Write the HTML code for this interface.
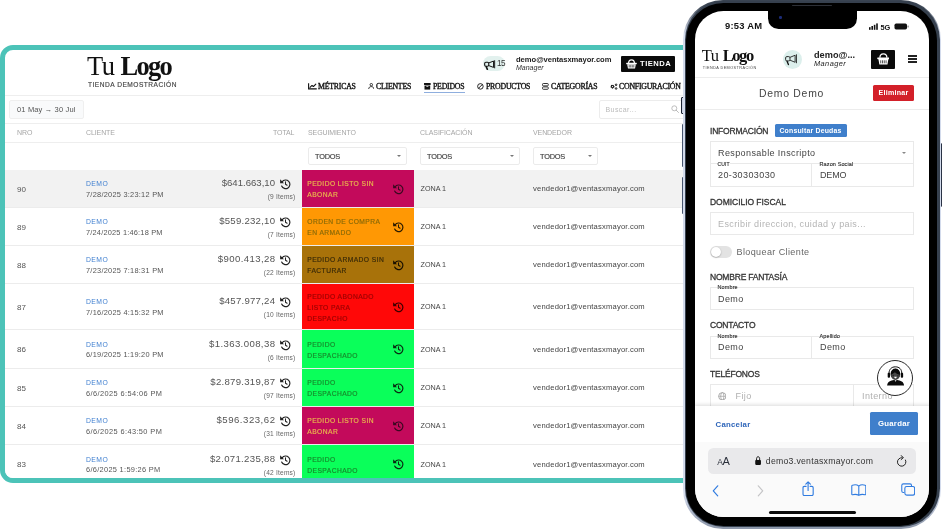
<!DOCTYPE html>
<html>
<head>
<meta charset="utf-8">
<title>Ventas x Mayor</title>
<style>
*{box-sizing:border-box;margin:0;padding:0}
html,body{width:942px;height:529px;overflow:hidden;background:#fff}
body{font-family:"Liberation Sans",sans-serif;position:relative;color:#444}
.abs{position:absolute;white-space:nowrap}
/* ---------- desktop ---------- */
#frame{position:absolute;left:0;top:45px;width:700px;height:438px;border:5px solid #4cc3b8;border-radius:13px 0 0 13px;background:#fff}
#deskclip{position:absolute;left:5px;top:50px;width:685px;height:428px;overflow:hidden;border-radius:8px 0 0 8px}
#desk{position:absolute;left:-5px;top:-50px;width:700px;height:529px;will-change:transform}
#frameclip{position:absolute;left:0;top:0;width:690px;height:529px;overflow:hidden}
.serif{font-family:"Liberation Serif",serif}
.hline{position:absolute;height:1px;background:#eeeeee;left:5px;width:690px}
.nav{position:absolute;top:82.3px;font-family:"Liberation Serif",serif;font-size:7.8px;color:#111;line-height:10px;white-space:nowrap;letter-spacing:-0.22px;-webkit-text-stroke:0.34px #111}
.th{position:absolute;top:128px;font-size:7px;letter-spacing:-0.1px;color:#a6a6a6;line-height:9px;white-space:nowrap}
.sel{position:absolute;top:146.5px;height:18.5px;border:1px solid #ebebeb;border-radius:2px;background:#fff;font-size:7.4px;letter-spacing:-0.22px;color:#444;line-height:17.5px;padding-left:6px;-webkit-text-stroke:0.15px #444}
.sel i{position:absolute;right:5.5px;top:7.5px;width:0;height:0;border-left:2.2px solid transparent;border-right:2.2px solid transparent;border-top:2.6px solid #777}
.row{position:absolute;left:5px;width:690px;border-bottom:1px solid #ececec;background:#fff}
.row.g{background:#f2f2f2}
.nro{position:absolute;left:12px;font-size:8px;color:#555;line-height:9px}
.cli{position:absolute;left:81px;top:9px;font-size:6.8px;letter-spacing:0.45px;color:#3f7fd0;line-height:9px}
.dt{position:absolute;left:81px;top:20px;font-size:7.4px;color:#555;line-height:9px;letter-spacing:0.25px;white-space:nowrap}
.tot{position:absolute;right:420px;top:7px;font-size:9.6px;color:#555;line-height:12px;white-space:nowrap;text-align:right}
.itm{position:absolute;right:399.5px;top:22px;font-size:6.6px;color:#666;line-height:8px;white-space:nowrap;text-align:right;letter-spacing:0.2px}
.hi{position:absolute;left:274px;top:7px;width:12px;height:12px}
.seg{position:absolute;left:296.7px;top:0;width:112.6px;bottom:0;font-size:6.7px;letter-spacing:0.44px;line-height:10.9px;padding-left:5.6px;-webkit-text-stroke:0.18px}
.seg .hi2{position:absolute;left:90px;width:12px;height:12px}
.zona{position:absolute;left:415.5px;margin-top:-0.6px;font-size:7.2px;color:#444;line-height:9px;letter-spacing:0px}
.ven{position:absolute;left:528px;margin-top:-0.6px;font-size:7.6px;color:#444;line-height:9px;letter-spacing:0.19px}
/* ---------- phone ---------- */
#scrclip{position:absolute;left:694.6px;top:10.8px;width:234.6px;height:506.6px;overflow:hidden;border-radius:28.5px;background:#fff}
#scr{will-change:transform;position:absolute;left:-694.6px;top:-10.8px;width:942px;height:529px}
.lbl{position:absolute;left:710px;font-size:8.5px;letter-spacing:-0.2px;color:#333;-webkit-text-stroke:0.28px #333;line-height:10px;white-space:nowrap}
.box{position:absolute;border:1px solid #e9e9e9;background:#fff}
.val{position:absolute;font-size:9px;letter-spacing:0.4px;color:#444;line-height:10px;white-space:nowrap}
.tiny{position:absolute;-webkit-text-stroke:0.15px #333;font-size:5.5px;color:#333;line-height:6px;white-space:nowrap;background:#fff;letter-spacing:0.12px}
</style>
</head>
<body>
<div id="frameclip"><div id="frame"></div></div>
<div id="deskclip"><div id="desk">

<!-- logo -->
<div class="abs serif" style="left:87px;top:50.6px;font-size:26.5px;line-height:30px;color:#111;letter-spacing:-0.5px">Tu<b style="letter-spacing:-1.75px;margin-left:6px">Logo</b></div>
<div class="abs" style="left:88px;top:81.2px;font-size:6.6px;line-height:8px;letter-spacing:0.5px;color:#444;-webkit-text-stroke:0.15px #444">TIENDA DEMOSTRACIÓN</div>

<!-- top right -->
<div class="abs" style="left:483px;top:56px;width:22.4px;height:15px;border-radius:8px;background:#e2f1ee"></div>
<div class="abs" style="left:496.9px;top:59.2px;font-size:8.2px;line-height:9px;color:#333;letter-spacing:-0.5px">15</div>
<div class="abs" style="left:516px;top:55px;font-size:7.6px;line-height:10px;font-weight:bold;color:#222;letter-spacing:-0.03px">demo@ventasxmayor.com</div>
<div class="abs" style="left:516px;top:62.5px;font-size:7px;line-height:9px;font-style:italic;color:#333">Manager</div>
<div class="abs" style="left:621px;top:56px;width:54px;height:16px;background:#0a0a0a;border-radius:1px"></div>
<div class="abs" style="left:640px;top:59px;font-size:7.6px;line-height:10px;font-weight:bold;color:#fff;letter-spacing:0.5px">TIENDA</div>

<!-- nav -->
<div class="nav" style="left:318px">MÉTRICAS</div>
<div class="nav" style="left:376px">CLIENTES</div>
<div class="nav" style="left:433px">PEDIDOS</div>
<div class="abs" style="left:424px;top:92px;width:41px;height:1px;background:#8eaede"></div>
<div class="nav" style="left:486px">PRODUCTOS</div>
<div class="nav" style="left:551px">CATEGORÍAS</div>
<div class="nav" style="left:619px">CONFIGURACIÓN</div>

<div class="hline" style="top:95px"></div>

<!-- toolbar -->
<div class="abs" style="left:9px;top:100px;width:75px;height:19px;border:1px solid #efefef;border-radius:2px;background:#f9fafb;font-size:7.5px;line-height:17px;color:#555;padding-left:7px;letter-spacing:0.15px">01 May → 30 Jul</div>
<div class="abs" style="left:599px;top:100px;width:90px;height:19px;border:1px solid #ececec;border-radius:2px;background:#fff;font-size:7px;line-height:17px;color:#bbb;padding-left:5.5px;letter-spacing:0.42px">Buscar...</div>
<div class="hline" style="top:123px"></div>

<!-- table head -->
<div class="th" style="left:17px">NRO</div>
<div class="th" style="left:86px">CLIENTE</div>
<div class="th" style="left:273px">TOTAL</div>
<div class="th" style="left:308px">SEGUIMIENTO</div>
<div class="th" style="left:420px">CLASIFICACIÓN</div>
<div class="th" style="left:533px">VENDEDOR</div>
<div class="hline" style="top:142px"></div>

<!-- filters -->
<div class="sel" style="left:308px;width:99px">TODOS<i></i></div>
<div class="sel" style="left:420px;width:100px">TODOS<i></i></div>
<div class="sel" style="left:533px;width:65px">TODOS<i></i></div>

<!-- desktop icons -->
<svg class="abs" style="left:308px;top:83.3px;width:9px;height:6.6px" viewBox="0 0 18 13"><path d="M1.2 0.5V11.6H17.5" fill="none" stroke="#111" stroke-width="2.2"/><path d="M4 8.6L8 4.8L10.8 7L15.6 2" fill="none" stroke="#111" stroke-width="2.2" stroke-linejoin="round" stroke-linecap="round"/></svg>
<svg class="abs" style="left:367.8px;top:83.2px;width:6.6px;height:6.2px" viewBox="0 0 12 12"><circle cx="6" cy="3.3" r="2.4" fill="none" stroke="#111" stroke-width="1.6"/><path d="M1 11.6C1 8.3 3.4 7 6 7S11 8.3 11 11.6" fill="none" stroke="#111" stroke-width="1.6"/></svg>
<svg class="abs" style="left:424px;top:83.2px;width:6.7px;height:6.6px" viewBox="0 0 12 12"><rect x="0" y="0" width="12" height="3.6" fill="#111"/><path d="M0.8 4.6H11.2V12H0.8Z" fill="#111"/><rect x="4.2" y="5.8" width="3.6" height="1.3" fill="#fff"/></svg>
<svg class="abs" style="left:476.8px;top:83px;width:6.8px;height:6.8px" viewBox="0 0 12 12"><circle cx="6" cy="6" r="4.9" fill="none" stroke="#111" stroke-width="1.6"/><path d="M2.8 9.2L9.2 2.8" stroke="#111" stroke-width="1.6"/></svg>
<svg class="abs" style="left:541.8px;top:83px;width:6.8px;height:6.8px" viewBox="0 0 12 12"><rect x="0.9" y="0.9" width="10.2" height="4.2" rx="1.5" fill="none" stroke="#111" stroke-width="1.5"/><rect x="0.9" y="6.9" width="10.2" height="4.2" rx="1.5" fill="none" stroke="#111" stroke-width="1.5"/></svg>
<svg class="abs" style="left:610px;top:82.8px;width:8px;height:7.2px" viewBox="0 0 16 14"><circle cx="5" cy="7" r="2.6" fill="none" stroke="#111" stroke-width="2.6" stroke-dasharray="1.9 0.9"/><circle cx="5" cy="7" r="2.2" fill="none" stroke="#111" stroke-width="2"/><circle cx="12.2" cy="3.4" r="1.6" fill="none" stroke="#111" stroke-width="2"/><circle cx="12.2" cy="10.8" r="1.6" fill="none" stroke="#111" stroke-width="2"/></svg>
<!-- megaphone -->
<svg class="abs" style="left:484px;top:59.7px;width:11.5px;height:10px" viewBox="0 0 24 21"><rect x="1.3" y="4.6" width="8.6" height="8.6" rx="2.6" fill="none" stroke="#111" stroke-width="2.3"/><path d="M10 6.2L20 2.2V15.6L10 11.8" fill="none" stroke="#111" stroke-width="2.1" stroke-linejoin="round"/><path d="M22.3 0.6V17.4" stroke="#111" stroke-width="2"/><path d="M4.6 14L7 19.6" stroke="#111" stroke-width="3.2" stroke-linecap="round"/></svg>
<!-- basket -->
<svg class="abs" style="left:626px;top:59px;width:11px;height:10px" viewBox="0 0 22 20"><path d="M5.2 8C5.2 3.4 8 1.6 11 1.6S16.8 3.4 16.8 8" fill="none" stroke="#fff" stroke-width="2.4"/><rect x="0.4" y="7.4" width="21.2" height="3.2" rx="1" fill="#fff"/><path d="M2.4 10.4H19.6L18 19.2H4Z" fill="#fff"/><path d="M6.4 12.2V17M9.5 12.2V17M12.5 12.2V17M15.6 12.2V17" stroke="#0a0a0a" stroke-width="1.3"/></svg>
<!-- search -->
<svg class="abs" style="left:671px;top:105.4px;width:8px;height:8px" viewBox="0 0 16 16"><circle cx="6.6" cy="6.6" r="5" fill="none" stroke="#aaa" stroke-width="1.5"/><path d="M10.4 10.4L15 15" stroke="#aaa" stroke-width="1.6" stroke-linecap="round"/></svg>
<!--/desktop icons-->
<!-- ROWS -->
<div id="rows">
<div class="row g" style="top:170px;height:38px">
<div class="nro" style="top:14.6px">90</div>
<div class="cli" style="top:9.3px">DEMO</div><div class="dt" style="top:19.8px;letter-spacing:0.25px">7/28/2025 3:23:12 PM</div>
<div class="tot" style="top:7.1px;letter-spacing:0px;margin-right:-0px">$641.663,10</div><svg class="hi" style="top:8.1px" viewBox="0 0 24 24"><path d="M6.2 7.6A8.6 8.6 0 1 1 5.3 16" fill="none" stroke="#222" stroke-width="2.4" stroke-linecap="round"/><path d="M2.2 2.6V10.4H10Z" fill="#222"/><path d="M13 7.4V12.4L16.2 14.4" fill="none" stroke="#222" stroke-width="2.1" stroke-linecap="round" stroke-linejoin="round"/></svg>
<div class="itm" style="top:23.1px">(9 Items)</div>
<div class="seg" style="background:#c30a5b;color:#e9b84d;padding-top:9.1px">PEDIDO LISTO SIN<br>ABONAR<svg class="hi2" style="top:12.9px" viewBox="0 0 24 24"><path d="M6.2 7.6A8.6 8.6 0 1 1 5.3 16" fill="none" stroke="#3a0a20" stroke-width="2.4" stroke-linecap="round"/><path d="M2.2 2.6V10.4H10Z" fill="#3a0a20"/><path d="M13 7.4V12.4L16.2 14.4" fill="none" stroke="#3a0a20" stroke-width="2.1" stroke-linecap="round" stroke-linejoin="round"/></svg></div>
<div class="zona" style="top:14.6px">ZONA 1</div><div class="ven" style="top:14.6px">vendedor1@ventasxmayor.com</div>
</div>
<div class="row" style="top:208px;height:38px">
<div class="nro" style="top:14.6px">89</div>
<div class="cli" style="top:9.3px">DEMO</div><div class="dt" style="top:19.8px;letter-spacing:0.2px">7/24/2025 1:46:18 PM</div>
<div class="tot" style="top:7.1px;letter-spacing:0.25px;margin-right:-0.25px">$559.232,10</div><svg class="hi" style="top:8.1px" viewBox="0 0 24 24"><path d="M6.2 7.6A8.6 8.6 0 1 1 5.3 16" fill="none" stroke="#222" stroke-width="2.4" stroke-linecap="round"/><path d="M2.2 2.6V10.4H10Z" fill="#222"/><path d="M13 7.4V12.4L16.2 14.4" fill="none" stroke="#222" stroke-width="2.1" stroke-linecap="round" stroke-linejoin="round"/></svg>
<div class="itm" style="top:23.1px">(7 Items)</div>
<div class="seg" style="background:#ff9804;color:#8a6a08;padding-top:9.1px">ORDEN DE COMPRA<br>EN ARMADO<svg class="hi2" style="top:12.9px" viewBox="0 0 24 24"><path d="M6.2 7.6A8.6 8.6 0 1 1 5.3 16" fill="none" stroke="#2a1a00" stroke-width="2.4" stroke-linecap="round"/><path d="M2.2 2.6V10.4H10Z" fill="#2a1a00"/><path d="M13 7.4V12.4L16.2 14.4" fill="none" stroke="#2a1a00" stroke-width="2.1" stroke-linecap="round" stroke-linejoin="round"/></svg></div>
<div class="zona" style="top:14.6px">ZONA 1</div><div class="ven" style="top:14.6px">vendedor1@ventasxmayor.com</div>
</div>
<div class="row" style="top:246px;height:38px">
<div class="nro" style="top:14.6px">88</div>
<div class="cli" style="top:9.3px">DEMO</div><div class="dt" style="top:19.8px;letter-spacing:0.25px">7/23/2025 7:18:31 PM</div>
<div class="tot" style="top:7.1px;letter-spacing:0.38px;margin-right:-0.38px">$900.413,28</div><svg class="hi" style="top:8.1px" viewBox="0 0 24 24"><path d="M6.2 7.6A8.6 8.6 0 1 1 5.3 16" fill="none" stroke="#222" stroke-width="2.4" stroke-linecap="round"/><path d="M2.2 2.6V10.4H10Z" fill="#222"/><path d="M13 7.4V12.4L16.2 14.4" fill="none" stroke="#222" stroke-width="2.1" stroke-linecap="round" stroke-linejoin="round"/></svg>
<div class="itm" style="top:23.1px">(22 Items)</div>
<div class="seg" style="background:#a8720a;color:#3a2a08;padding-top:9.1px">PEDIDO ARMADO SIN<br>FACTURAR<svg class="hi2" style="top:12.9px" viewBox="0 0 24 24"><path d="M6.2 7.6A8.6 8.6 0 1 1 5.3 16" fill="none" stroke="#1a1000" stroke-width="2.4" stroke-linecap="round"/><path d="M2.2 2.6V10.4H10Z" fill="#1a1000"/><path d="M13 7.4V12.4L16.2 14.4" fill="none" stroke="#1a1000" stroke-width="2.1" stroke-linecap="round" stroke-linejoin="round"/></svg></div>
<div class="zona" style="top:14.6px">ZONA 1</div><div class="ven" style="top:14.6px">vendedor1@ventasxmayor.com</div>
</div>
<div class="row" style="top:284px;height:46px">
<div class="nro" style="top:18.6px">87</div>
<div class="cli" style="top:13.3px">DEMO</div><div class="dt" style="top:23.8px;letter-spacing:0.25px">7/16/2025 4:15:32 PM</div>
<div class="tot" style="top:11.1px;letter-spacing:0.25px;margin-right:-0.25px">$457.977,24</div><svg class="hi" style="top:12.1px" viewBox="0 0 24 24"><path d="M6.2 7.6A8.6 8.6 0 1 1 5.3 16" fill="none" stroke="#222" stroke-width="2.4" stroke-linecap="round"/><path d="M2.2 2.6V10.4H10Z" fill="#222"/><path d="M13 7.4V12.4L16.2 14.4" fill="none" stroke="#222" stroke-width="2.1" stroke-linecap="round" stroke-linejoin="round"/></svg>
<div class="itm" style="top:27.1px">(10 Items)</div>
<div class="seg" style="background:#ff0808;color:#9a0303;padding-top:7.7px">PEDIDO ABONADO<br>LISTO PARA<br>DESPACHO<svg class="hi2" style="top:16.9px" viewBox="0 0 24 24"><path d="M6.2 7.6A8.6 8.6 0 1 1 5.3 16" fill="none" stroke="#3a0000" stroke-width="2.4" stroke-linecap="round"/><path d="M2.2 2.6V10.4H10Z" fill="#3a0000"/><path d="M13 7.4V12.4L16.2 14.4" fill="none" stroke="#3a0000" stroke-width="2.1" stroke-linecap="round" stroke-linejoin="round"/></svg></div>
<div class="zona" style="top:18.6px">ZONA 1</div><div class="ven" style="top:18.6px">vendedor1@ventasxmayor.com</div>
</div>
<div class="row" style="top:330px;height:39px">
<div class="nro" style="top:15.1px">86</div>
<div class="cli" style="top:9.8px">DEMO</div><div class="dt" style="top:20.3px;letter-spacing:0.25px">6/19/2025 1:19:20 PM</div>
<div class="tot" style="top:7.6px;letter-spacing:0.39px;margin-right:-0.39px">$1.363.008,38</div><svg class="hi" style="top:8.6px" viewBox="0 0 24 24"><path d="M6.2 7.6A8.6 8.6 0 1 1 5.3 16" fill="none" stroke="#222" stroke-width="2.4" stroke-linecap="round"/><path d="M2.2 2.6V10.4H10Z" fill="#222"/><path d="M13 7.4V12.4L16.2 14.4" fill="none" stroke="#222" stroke-width="2.1" stroke-linecap="round" stroke-linejoin="round"/></svg>
<div class="itm" style="top:23.6px">(6 Items)</div>
<div class="seg" style="background:#0aff5a;color:#178a2c;padding-top:9.6px">PEDIDO<br>DESPACHADO<svg class="hi2" style="top:13.4px" viewBox="0 0 24 24"><path d="M6.2 7.6A8.6 8.6 0 1 1 5.3 16" fill="none" stroke="#0a2a12" stroke-width="2.4" stroke-linecap="round"/><path d="M2.2 2.6V10.4H10Z" fill="#0a2a12"/><path d="M13 7.4V12.4L16.2 14.4" fill="none" stroke="#0a2a12" stroke-width="2.1" stroke-linecap="round" stroke-linejoin="round"/></svg></div>
<div class="zona" style="top:15.1px">ZONA 1</div><div class="ven" style="top:15.1px">vendedor1@ventasxmayor.com</div>
</div>
<div class="row" style="top:369px;height:38px">
<div class="nro" style="top:14.6px">85</div>
<div class="cli" style="top:9.3px">DEMO</div><div class="dt" style="top:19.8px;letter-spacing:0.41px">6/6/2025 6:54:06 PM</div>
<div class="tot" style="top:7.1px;letter-spacing:0.28px;margin-right:-0.28px">$2.879.319,87</div><svg class="hi" style="top:8.1px" viewBox="0 0 24 24"><path d="M6.2 7.6A8.6 8.6 0 1 1 5.3 16" fill="none" stroke="#222" stroke-width="2.4" stroke-linecap="round"/><path d="M2.2 2.6V10.4H10Z" fill="#222"/><path d="M13 7.4V12.4L16.2 14.4" fill="none" stroke="#222" stroke-width="2.1" stroke-linecap="round" stroke-linejoin="round"/></svg>
<div class="itm" style="top:23.1px">(97 Items)</div>
<div class="seg" style="background:#0aff5a;color:#178a2c;padding-top:9.1px">PEDIDO<br>DESPACHADO<svg class="hi2" style="top:12.9px" viewBox="0 0 24 24"><path d="M6.2 7.6A8.6 8.6 0 1 1 5.3 16" fill="none" stroke="#0a2a12" stroke-width="2.4" stroke-linecap="round"/><path d="M2.2 2.6V10.4H10Z" fill="#0a2a12"/><path d="M13 7.4V12.4L16.2 14.4" fill="none" stroke="#0a2a12" stroke-width="2.1" stroke-linecap="round" stroke-linejoin="round"/></svg></div>
<div class="zona" style="top:14.6px">ZONA 1</div><div class="ven" style="top:14.6px">vendedor1@ventasxmayor.com</div>
</div>
<div class="row" style="top:407px;height:38px">
<div class="nro" style="top:14.6px">84</div>
<div class="cli" style="top:9.3px">DEMO</div><div class="dt" style="top:19.8px;letter-spacing:0.4px">6/6/2025 6:43:50 PM</div>
<div class="tot" style="top:7.1px;letter-spacing:0.52px;margin-right:-0.52px">$596.323,62</div><svg class="hi" style="top:8.1px" viewBox="0 0 24 24"><path d="M6.2 7.6A8.6 8.6 0 1 1 5.3 16" fill="none" stroke="#222" stroke-width="2.4" stroke-linecap="round"/><path d="M2.2 2.6V10.4H10Z" fill="#222"/><path d="M13 7.4V12.4L16.2 14.4" fill="none" stroke="#222" stroke-width="2.1" stroke-linecap="round" stroke-linejoin="round"/></svg>
<div class="itm" style="top:23.1px">(31 Items)</div>
<div class="seg" style="background:#c30a5b;color:#e9b84d;padding-top:9.1px">PEDIDO LISTO SIN<br>ABONAR<svg class="hi2" style="top:12.9px" viewBox="0 0 24 24"><path d="M6.2 7.6A8.6 8.6 0 1 1 5.3 16" fill="none" stroke="#3a0a20" stroke-width="2.4" stroke-linecap="round"/><path d="M2.2 2.6V10.4H10Z" fill="#3a0a20"/><path d="M13 7.4V12.4L16.2 14.4" fill="none" stroke="#3a0a20" stroke-width="2.1" stroke-linecap="round" stroke-linejoin="round"/></svg></div>
<div class="zona" style="top:14.6px">ZONA 1</div><div class="ven" style="top:14.6px">vendedor1@ventasxmayor.com</div>
</div>
<div class="row" style="top:445px;height:39px">
<div class="nro" style="top:15.1px">83</div>
<div class="cli" style="top:9.8px">DEMO</div><div class="dt" style="top:20.3px;letter-spacing:0.31px">6/6/2025 1:59:26 PM</div>
<div class="tot" style="top:7.6px;letter-spacing:0.31px;margin-right:-0.31px">$2.071.235,88</div><svg class="hi" style="top:8.6px" viewBox="0 0 24 24"><path d="M6.2 7.6A8.6 8.6 0 1 1 5.3 16" fill="none" stroke="#222" stroke-width="2.4" stroke-linecap="round"/><path d="M2.2 2.6V10.4H10Z" fill="#222"/><path d="M13 7.4V12.4L16.2 14.4" fill="none" stroke="#222" stroke-width="2.1" stroke-linecap="round" stroke-linejoin="round"/></svg>
<div class="itm" style="top:23.6px">(42 Items)</div>
<div class="seg" style="background:#0aff5a;color:#178a2c;padding-top:9.6px">PEDIDO<br>DESPACHADO<svg class="hi2" style="top:13.4px" viewBox="0 0 24 24"><path d="M6.2 7.6A8.6 8.6 0 1 1 5.3 16" fill="none" stroke="#0a2a12" stroke-width="2.4" stroke-linecap="round"/><path d="M2.2 2.6V10.4H10Z" fill="#0a2a12"/><path d="M13 7.4V12.4L16.2 14.4" fill="none" stroke="#0a2a12" stroke-width="2.1" stroke-linecap="round" stroke-linejoin="round"/></svg></div>
<div class="zona" style="top:15.1px">ZONA 1</div><div class="ven" style="top:15.1px">vendedor1@ventasxmayor.com</div>
</div>
</div><!--/rows-->
</div></div>

<!-- PHONE -->
<div id="phone">
<!-- side buttons -->
<div class="abs" style="left:681px;top:97.4px;width:4px;height:17px;background:#c9cfe0;border:1px solid #1a2233;border-radius:1px"></div>
<div class="abs" style="left:681.8px;top:124.4px;width:3px;height:42.4px;background:#46546e;border-radius:1px"></div>
<div class="abs" style="left:681.8px;top:177.3px;width:3px;height:36.6px;background:#46546e;border-radius:1px"></div>
<div class="abs" style="left:939.5px;top:143.2px;width:2.5px;height:63.4px;background:#9aa5bd;border:0.5px solid #2a3346;border-radius:1px"></div>
<!-- body -->
<div class="abs" style="left:683.4px;top:0px;width:257.8px;height:528.6px;border-radius:40px;background:linear-gradient(to bottom,#3a4452 0,#3a4452 5px,#d3dbec 34px,#d3dbec 494px,#8d97aa 528px)"></div>
<div class="abs" style="left:684.8px;top:1.2px;width:254.8px;height:526px;border-radius:38.8px;background:#36404e"></div>
<div class="abs" style="left:686.4px;top:3.4px;width:250.8px;height:522.2px;border-radius:37.4px;background:#000"></div>
<div class="abs" style="left:792px;top:4.6px;width:39.5px;height:1.8px;border-radius:1px;background:#2c2f36"></div>
<div id="scrclip"><div id="scr">
<!-- status bar -->
<div class="abs" style="left:725px;top:20px;font-size:9.4px;line-height:12px;font-weight:bold;color:#111;letter-spacing:0.25px">9:53 AM</div>
<div class="abs" style="left:768px;top:0px;width:88.6px;height:29px;background:#000;border-radius:0 0 10.5px 10.5px"></div><div class="abs" style="left:779.4px;top:16.2px;width:2.4px;height:2.4px;border-radius:50%;background:#1c2c78"></div>
<svg class="abs" style="left:868px;top:20px;width:42px;height:12px" viewBox="0 0 42 12">
<rect x="1" y="7.2" width="1.6" height="2.6" fill="#111"/><rect x="3.4" y="6" width="1.6" height="3.8" fill="#111"/><rect x="5.8" y="4.8" width="1.6" height="5" fill="#111"/><rect x="8.2" y="3.4" width="1.6" height="6.4" fill="#111"/>
<text x="12.5" y="9.6" font-family="Liberation Sans" font-weight="bold" font-size="7.4" fill="#111">5G</text>
<rect x="26.5" y="3.6" width="12.5" height="5.8" rx="1.6" fill="#111"/><rect x="39.6" y="5.4" width="0.9" height="2.2" rx="0.4" fill="#555"/>
</svg>
<!-- app header -->
<div class="abs serif" style="left:701.8px;top:45.9px;font-size:16.5px;line-height:20px;color:#111;letter-spacing:-0.5px">Tu<b style="letter-spacing:-1.45px;margin-left:4.2px">Logo</b></div>
<div class="abs" style="left:702.8px;top:66px;font-size:3.8px;line-height:5px;letter-spacing:0.42px;color:#444">TIENDA DEMOSTRACIÓN</div>
<div class="abs" style="left:783px;top:50px;width:19px;height:19px;border-radius:50%;background:#dcefec"></div>
<div class="abs" style="left:814px;top:49.7px;font-size:9.2px;line-height:10px;font-weight:bold;color:#222">demo@...</div>
<div class="abs" style="left:814px;top:58.5px;font-size:7.4px;line-height:9px;font-style:italic;color:#222;letter-spacing:0.42px">Manager</div>
<div class="abs" style="left:871px;top:50px;width:24px;height:19px;background:#0a0a0a;border-radius:1px"></div>
<div class="abs" style="left:907.6px;top:55.1px;width:9.6px;height:2px;background:#222"></div>
<div class="abs" style="left:907.6px;top:58.1px;width:9.6px;height:2px;background:#222"></div>
<div class="abs" style="left:907.6px;top:61.1px;width:9.6px;height:2px;background:#222"></div>
<div class="abs" style="left:694px;top:76.6px;width:237px;height:1px;background:#ececec"></div>
<!-- title -->
<div class="abs" style="left:759px;top:87.7px;font-size:10.4px;line-height:12px;color:#444;letter-spacing:0.75px">Demo Demo</div>
<div class="abs" style="left:873px;top:85px;width:41px;height:16px;background:#d32029;border-radius:1.5px;color:#fff;font-size:7.1px;line-height:16px;text-align:center;font-weight:bold;letter-spacing:0.25px">Eliminar</div>
<div class="abs" style="left:695px;top:109px;width:235px;height:1px;background:#ececec"></div>
<!-- informacion -->
<div class="lbl" style="top:125.5px">INFORMACIÓN</div>
<div class="abs" style="left:774.5px;top:124.4px;width:72px;height:13px;background:#3f7fcb;border-radius:1.5px;color:#fff;font-size:6.9px;line-height:13.4px;text-align:center;font-weight:bold;letter-spacing:0.2px">Consultar Deudas</div>
<div class="box" style="left:710px;top:141px;width:204px;height:23px"></div>
<div class="val" style="left:718px;top:148px">Responsable Inscripto</div>
<div class="abs" style="left:901.5px;top:151.5px;width:0;height:0;border-left:2.4px solid transparent;border-right:2.4px solid transparent;border-top:2.8px solid #888"></div>
<div class="box" style="left:710px;top:163px;width:102px;height:24px"></div>
<div class="box" style="left:811px;top:163px;width:103px;height:24px"></div>
<div class="tiny" style="left:717.5px;top:160.6px;font-size:5px">CUIT</div>
<div class="tiny" style="left:819.5px;top:160.6px">Razon Social</div>
<div class="val" style="left:718px;top:170px">20-30303030</div>
<div class="val" style="left:820px;top:170px;letter-spacing:-0.15px">DEMO</div>
<!-- domicilio -->
<div class="lbl" style="top:197.0px;letter-spacing:-0.04px">DOMICILIO FISCAL</div>
<div class="box" style="left:710px;top:212px;width:204px;height:23px"></div>
<div class="val" style="left:718px;top:218.5px;color:#b4b4b4">Escribir direccion, cuidad y pais...</div>
<!-- toggle -->
<div class="abs" style="left:710px;top:246px;width:21.5px;height:11.5px;border-radius:6px;background:#e3e3e3"></div>
<div class="abs" style="left:710.5px;top:246.5px;width:10.5px;height:10.5px;border-radius:50%;background:#fff;box-shadow:0 0.5px 1.5px rgba(0,0,0,.35)"></div>
<div class="val" style="left:736.5px;top:246.5px;color:#666">Bloquear Cliente</div>
<!-- nombre fantasia -->
<div class="lbl" style="top:272.2px">NOMBRE FANTASÍA</div>
<div class="box" style="left:710px;top:287px;width:204px;height:23px"></div>
<div class="tiny" style="left:717.5px;top:283.8px">Nombre</div>
<div class="val" style="left:718px;top:293.5px">Demo</div>
<!-- contacto -->
<div class="lbl" style="top:320.0px">CONTACTO</div>
<div class="box" style="left:710px;top:336px;width:102px;height:23px"></div>
<div class="box" style="left:811px;top:336px;width:103px;height:23px"></div>
<div class="tiny" style="left:717.5px;top:332.8px">Nombre</div>
<div class="tiny" style="left:819.5px;top:332.8px">Apellido</div>
<div class="val" style="left:718px;top:342px">Demo</div>
<div class="val" style="left:820px;top:342px">Demo</div>
<!-- telefonos -->
<div class="lbl" style="top:369.2px">TELÉFONOS</div>
<div class="box" style="left:710px;top:384px;width:144px;height:26px"></div>
<div class="box" style="left:853px;top:384px;width:61px;height:26px"></div>
<svg class="abs" style="left:717.6px;top:391.8px;width:8.6px;height:8.6px" viewBox="0 0 14 14"><circle cx="7" cy="7" r="6" fill="none" stroke="#999" stroke-width="1.3"/><ellipse cx="7" cy="7" rx="2.6" ry="6" fill="none" stroke="#999" stroke-width="1.1"/><path d="M1 7H13" stroke="#999" stroke-width="1.1"/></svg>
<div class="val" style="left:735.5px;top:391px;color:#b0b0b0">Fijo</div>
<div class="val" style="left:862px;top:391px;color:#b0b0b0">Interno</div>
<!-- support bubble -->
<div class="abs" style="left:877.2px;top:359.8px;width:36.2px;height:36.2px;border-radius:50%;background:#fff;border:0.7px solid #2a2a2a"></div>
<!-- action bar -->
<div class="abs" style="left:694px;top:406.4px;width:237px;height:36px;background:#fff;box-shadow:0 -1px 4px rgba(0,0,0,.15)"></div>
<div class="abs" style="left:715.5px;top:419.7px;font-size:7.8px;line-height:10px;font-weight:bold;color:#2f66ba;letter-spacing:0.25px">Cancelar</div>
<div class="abs" style="left:870px;top:412px;width:48px;height:23px;background:#3f7fcb;border-radius:1.5px;color:#fff;font-size:7.8px;line-height:23px;text-align:center;font-weight:bold;letter-spacing:0.25px">Guardar</div>
<!-- safari -->
<div class="abs" style="left:694px;top:442px;width:237px;height:80px;background:#fafafa"></div>
<div class="abs" style="left:708px;top:448px;width:208px;height:25.5px;border-radius:5.5px;background:#e9e9eb"></div>
<div class="abs" style="left:717.2px;top:454.1px;font-size:8.4px;line-height:14px;color:#2a2f3a;letter-spacing:-0.2px">A<span style="font-size:11px">A</span></div>
<div class="abs" style="left:765.8px;top:455.7px;font-size:8.7px;line-height:11px;color:#333;letter-spacing:0.27px">demo3.ventasxmayor.com</div>
<div class="abs" style="left:768.5px;top:510.5px;width:87px;height:3px;border-radius:2px;background:#0a0a0a"></div>
<!-- phone icons -->
<svg class="abs" style="left:785.4px;top:54.4px;width:12.4px;height:11.4px" viewBox="0 0 24 22"><rect x="1.2" y="5" width="8.4" height="8.4" rx="2.4" fill="none" stroke="#111" stroke-width="1.7"/><path d="M9.8 6.4L19.6 2.4V16L9.8 12" fill="none" stroke="#111" stroke-width="1.6" stroke-linejoin="round"/><path d="M22.2 0.6V17.8" stroke="#111" stroke-width="1.6"/><path d="M4.2 14.6L6.6 20.4" stroke="#111" stroke-width="2.6" stroke-linecap="round"/></svg>
<svg class="abs" style="left:876.6px;top:53.4px;width:12.8px;height:12.2px" viewBox="0 0 22 21"><path d="M5 8.2C5 3.4 8 1.5 11 1.5S17 3.4 17 8.2" fill="none" stroke="#fff" stroke-width="2.2"/><rect x="0.4" y="7.6" width="21.2" height="3" rx="1" fill="#fff"/><path d="M2.4 10.4H19.6L18 20H4Z" fill="#fff"/><path d="M6.4 12.6V17.8M9.5 12.6V17.8M12.5 12.6V17.8M15.6 12.6V17.8" stroke="#0a0a0a" stroke-width="1.2"/></svg>
<!-- support person -->
<svg class="abs" style="left:887px;top:366.3px;width:17.05px;height:19.55px" viewBox="145 110 225 258">
<path d="M146 368C148 335 170 312 205 303L236 296H280L310 303C347 312 368 335 370 368Z" fill="#0a0a0a"/>
<path d="M245 297L258 319L271 297Z" fill="#fff"/>
<ellipse cx="256" cy="216" rx="64" ry="75" fill="#0a0a0a"/>
<path d="M199 226C218 218 236 207 250 194C270 216 298 228 316 226C314 264 290 289 257 289S201 264 199 226Z" fill="#474747"/>
<path d="M240 253H274C272 268 263 275 257 275S242 268 240 253Z" fill="#fff"/>
<circle cx="226" cy="232" r="7" fill="#0a0a0a"/><circle cx="290" cy="238" r="7" fill="#0a0a0a"/>
<path d="M187 200C190 160 216 139 256 139S322 160 325 200" fill="none" stroke="#fff" stroke-width="5"/>
<path d="M172 206C172 152 205 121 256 121S340 152 340 206" fill="none" stroke="#0a0a0a" stroke-width="13"/>
<rect x="154" y="198" width="31" height="68" rx="13" fill="#0a0a0a"/><rect x="327" y="198" width="31" height="68" rx="13" fill="#0a0a0a"/>
</svg>
<!-- lock -->
<svg class="abs" style="left:755.4px;top:455.8px;width:6.2px;height:9.2px" viewBox="0 0 12 18"><path d="M3 8V5.200C3 2.800 4.300 1.500 6 1.500S9 2.800 9 5.200V8" fill="none" stroke="#111" stroke-width="1.900"/><rect x="0.400" y="7.600" width="11.200" height="9.800" rx="1.600" fill="#111"/></svg>
<!-- reload -->
<svg class="abs" style="left:895.6px;top:454.6px;width:11.4px;height:12.6px" viewBox="0 0 22 24"><path d="M17.800 8.600A8.200 8.200 0 1 1 11 5" fill="none" stroke="#222" stroke-width="1.800" stroke-linecap="round" transform="rotate(8 11 13.200)"/><path d="M9.600 0.800L14.400 4.800L10 8.800" fill="none" stroke="#222" stroke-width="1.800" stroke-linecap="round" stroke-linejoin="round"/></svg>
<!-- back / fwd -->
<svg class="abs" style="left:711.6px;top:485px;width:7px;height:11.600px" viewBox="0 0 7 12"><path d="M5.800 0.800L1.200 6L5.800 11.200" fill="none" stroke="#2f7be0" stroke-width="1.200" stroke-linecap="round" stroke-linejoin="round"/></svg>
<svg class="abs" style="left:757.400px;top:485px;width:7px;height:11.600px" viewBox="0 0 7 12"><path d="M1.200 0.800L5.800 6L1.200 11.200" fill="none" stroke="#c4c4c6" stroke-width="1.200" stroke-linecap="round" stroke-linejoin="round"/></svg>
<!-- share -->
<svg class="abs" style="left:802.400px;top:480.600px;width:12.200px;height:15.400px" viewBox="0 0 24 30"><path d="M8 10.500H4.500C3 10.500 2 11.500 2 13V26C2 27.500 3 28.500 4.500 28.500H19.500C21 28.500 22 27.500 22 26V13C22 11.500 21 10.500 19.500 10.500H16" fill="none" stroke="#2f7be0" stroke-width="2.200" stroke-linecap="round"/><path d="M12 18.500V2M7.500 6L12 1.500L16.500 6" fill="none" stroke="#2f7be0" stroke-width="2.200" stroke-linecap="round" stroke-linejoin="round"/></svg>
<!-- book -->
<svg class="abs" style="left:850.800px;top:483.800px;width:15.600px;height:12px" viewBox="0 0 30 23"><path d="M15 4C12.500 1.800 7 1 2.500 2.400C1.800 2.600 1.500 3 1.500 3.800V19.500C1.500 20.400 2.200 20.800 3 20.600C7 19.600 12 20 15 21.800C18 20 23 19.600 27 20.600C27.800 20.800 28.500 20.400 28.500 19.500V3.800C28.500 3 28.200 2.600 27.500 2.400C23 1 17.500 1.800 15 4ZM15 4V21.500" fill="none" stroke="#2f7be0" stroke-width="2.100" stroke-linejoin="round"/></svg>
<!-- tabs -->
<svg class="abs" style="left:901px;top:482.800px;width:14.400px;height:13px" viewBox="0 0 28 25"><rect x="7.500" y="6.500" width="19" height="17" rx="3.600" fill="#fafafa" stroke="#2f7be0" stroke-width="2.100"/><path d="M5.500 18.500H4.600C2.800 18.500 1.500 17.200 1.500 15.400V4.600C1.500 2.800 2.800 1.500 4.600 1.500H17.400C19.200 1.500 20.500 2.800 20.500 4.600V5" fill="none" stroke="#2f7be0" stroke-width="2.100" stroke-linecap="round"/></svg>
<!--/phone icons-->
</div></div>
</div>
</body>
</html>
